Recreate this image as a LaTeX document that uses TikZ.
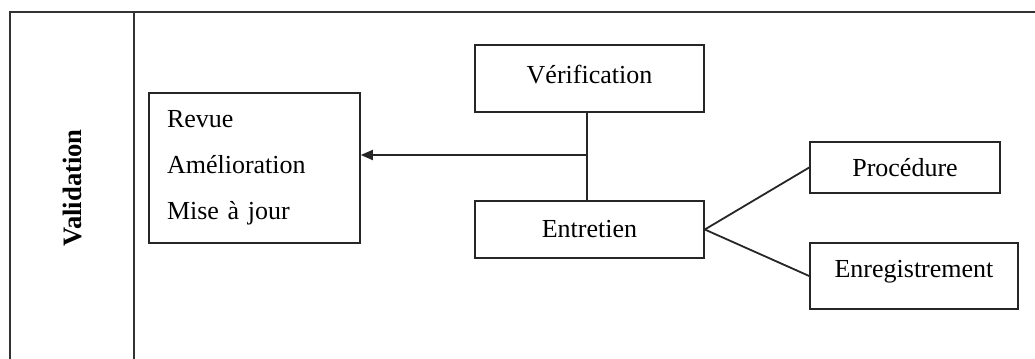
\documentclass[tikz,border=0pt]{standalone}
\usepackage{fontspec}
\setmainfont{Liberation Serif}
\usetikzlibrary{arrows.meta}
\tikzset{
  x=0.5pt, y=-0.5pt,
  frame/.style={line width=0.8pt, draw=black!80},
  box/.style={draw=black!85, line width=0.8pt, inner sep=0pt, align=center,
    font=\fontsize{13}{15.6}\selectfont},
  link/.style={line width=0.9pt, draw=black!85},
}
\begin{document}
\begin{tikzpicture}
\useasboundingbox (0,0) rectangle (1035,359);
% lane frame
\coordinate (tl) at (10,12);
\coordinate (bl) at (10,359);
\coordinate (tr) at (1035,12);
\coordinate (dt) at (134,12);
\coordinate (db) at (134,359);
\draw[frame] (bl) -- (tl) -- (tr);
\draw[frame] (dt) -- (db);
\node[rotate=90, font=\fontsize{13.3}{16}\selectfont\bfseries] (lane) at (72,188) {Validation};

% boxes
\node[box, minimum width=105.5pt, minimum height=75pt, text width=87.5pt,
      align=left, inner xsep=9pt, font=\fontsize{13}{23}\selectfont] (rev) at (254.5,168)
  {Revue\\Amélioration\\Mise à jour};
\node[box, minimum width=114.5pt, minimum height=33.5pt, text depth=4pt] (ver) at (589.5,78.5) {Vérification};
\node[box, minimum width=114.5pt, minimum height=28.5pt] (ent) at (589.5,229.5) {Entretien};
\node[box, minimum width=95pt, minimum height=25.5pt] (proc) at (905,167.5) {Procédure};
\node[box, minimum width=104pt, minimum height=33pt, text depth=7pt] (enr) at (914,276) {Enregistrement};

% connectors
\coordinate (vt) at (587,0 |- ver.south);
\coordinate (vb) at (587,0 |- ent.north);
\draw[link] (vt) -- (vb);
\coordinate (j) at (587,155);
\draw[link, -{Triangle[length=6pt, width=5pt]}] (j) -- (j -| rev.east);
\draw[link] (ent.east) -- (proc.west);
\draw[link] (ent.east) -- (enr.west);
\end{tikzpicture}
\end{document}
